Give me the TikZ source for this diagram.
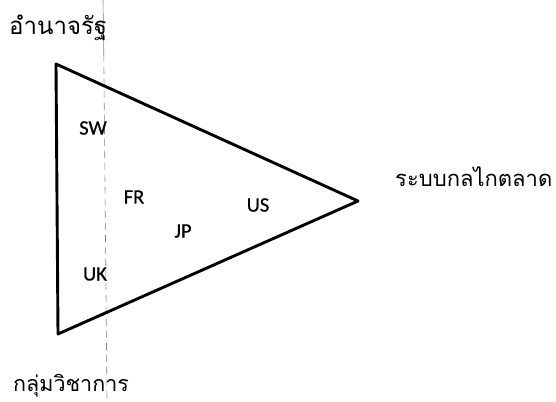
\documentclass[tikz,border=0pt]{standalone}
\usepackage{fontspec}
\setmainfont{Carlito}
\newfontfamily\thaifont[Script=Thai]{Loma}
\newfontfamily\countryfont[FakeBold=0.6]{Carlito}
\usetikzlibrary{positioning}
\definecolor{scanline}{RGB}{130,130,130}

\begin{document}
\begin{tikzpicture}[x=1pt, y=-1pt,
    thailbl/.style={font=\thaifont\fontsize{22}{26}\selectfont, inner sep=0pt},
    country/.style={font=\countryfont\fontsize{20.5}{22}\selectfont, inner sep=0pt}]
    \useasboundingbox (0,0) rectangle (556,401);

    % Scan line
    \draw[scanline, line width=0.6pt] (103,0) -- (103.8,55);
    \draw[scanline, line width=0.6pt, dash pattern=on 7pt off 5pt] (103.8,55) -- (107,401);

    % Triangle
    \coordinate (state) at (56,64);
    \coordinate (academia) at (58,334);
    \coordinate (market) at (358,201);
    \draw[line width=2.9pt, line join=round] (state) -- (market) -- (academia) -- cycle;

    % Corner labels
    \node[thailbl, font=\thaifont\fontsize{24}{28}\selectfont, anchor=west] (statelbl) at (9,28) {อำนาจรัฐ};
    \node[thailbl, anchor=west] (marketlbl) at (395,177) {ระบบกลไกตลาด};
    \node[thailbl, font=\thaifont\fontsize{21.5}{26}\selectfont, anchor=west] (academialbl) at (13,386) {กลุ่มวิชาการ};

    % Countries
    \node[country] (sw) at (93,128) {SW};
    \node[country] (fr) at (134,197) {FR};
    \node[country] (us) at (258,205) {US};
    \node[country] (jp) at (183,231) {JP};
    \node[country] (uk) at (95,274) {UK};
\end{tikzpicture}
\end{document}
